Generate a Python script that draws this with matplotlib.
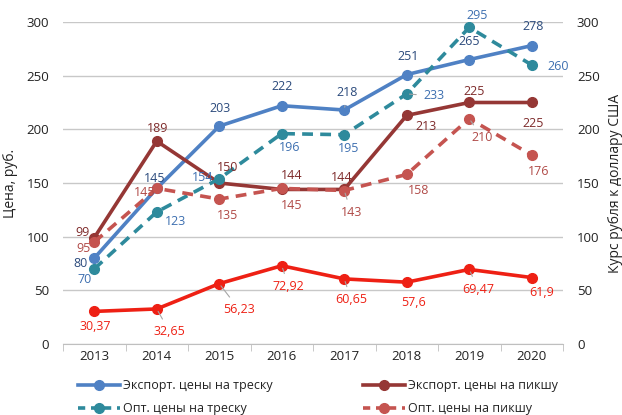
import matplotlib
matplotlib.use("Agg")
import matplotlib.pyplot as plt
from matplotlib.lines import Line2D

plt.rcParams['font.family'] = ['Open Sans', 'DejaVu Sans']

years = ['2013', '2014', '2015', '2016', '2017', '2018', '2019', '2020']
export_cod = [80, 145, 203, 222, 218, 251, 265, 278]
export_haddock = [99, 189, 150, 144, 144, 213, 225, 225]
opt_cod = [70, 123, 154, 196, 195, 233, 295, 260]
opt_haddock = [95, 145, 135, 145, 143, 158, 210, 176]
usd_rate = [30.37, 32.65, 56.23, 72.92, 60.65, 57.6, 69.47, 61.9]

names = ['Экспорт. цены на треску', 'Экспорт. цены на пикшу',
         'Опт. цены на треску', 'Опт. цены на пикшу']

c_ecod = '#4f81c4'
c_ehad = '#953735'
c_ocod = '#2e8a9c'
c_ohad = '#c55450'
c_usd = '#ee2014'

fig = plt.figure(figsize=(6.22, 4.15), dpi=100)
ax = fig.add_axes([63/622, 1-344/415, 500/622, 322/415])
ax2 = ax.twinx()

x = list(range(len(years)))
lw = 2.6
ms = 7
ax.plot(x, export_cod, color=c_ecod, lw=lw, marker='o', ms=ms, zorder=5)
ax.plot(x, export_haddock, color=c_ehad, lw=lw, marker='o', ms=ms, zorder=5)
ax.plot(x, opt_cod, color=c_ocod, lw=lw, marker='o', ms=ms, ls=(0, (3, 2)), zorder=5)
ax.plot(x, opt_haddock, color=c_ohad, lw=lw, marker='o', ms=ms, ls=(0, (3, 2)), zorder=5)
ax.plot(x, usd_rate, color=c_usd, lw=lw, marker='o', ms=ms, zorder=5)

ax.set_xlim(-0.5, len(years) - 0.5)
ax.set_ylim(0, 300)
ax2.set_ylim(0, 300)
ax.set_yticks(range(0, 301, 50))
ax2.set_yticks(range(0, 301, 50))
ax.grid(axis='y', color='#c8c8c8', lw=1)
ax.set_axisbelow(True)
for a in (ax, ax2):
    for s in a.spines.values():
        s.set_visible(False)
    a.tick_params(axis='y', length=0, labelsize=9.5, colors='#222222')
ax.spines['bottom'].set_visible(True)
ax.spines['bottom'].set_color('#bfbfbf')
ax.set_xticks(x)
ax.set_xticklabels(years)
ax.set_xticks([i - 0.5 for i in range(len(years) + 1)], minor=True)
ax.tick_params(axis='x', which='major', length=0, labelsize=9.5, colors='#222222', pad=4)
ax.tick_params(axis='x', which='minor', length=5, color='#bfbfbf')
ax.tick_params(axis='y', pad=10)
ax2.tick_params(axis='y', pad=10)

ax.set_ylabel('Цена, руб.', fontsize=10, color='#222222', labelpad=6)
ax2.set_ylabel('Курс рубля к доллару США', fontsize=10, color='#222222', labelpad=6)

def fmt(v):
    s = ('%g' % v).replace('.', ',')
    return s

def labels(vals, offs, color, leaders=()):
    for i, (v, (dx, dy)) in enumerate(zip(vals, offs)):
        kw = {}
        if i in leaders:
            kw['arrowprops'] = dict(arrowstyle='-', color='#a6a6a6', lw=0.8,
                                    shrinkA=3, shrinkB=2)
        ax.annotate(fmt(v), (i, v), xytext=(dx, -dy), textcoords='offset pixels',
                    ha='center', va='center', fontsize=9, color=color, zorder=10, **kw)

lab_ecod = '#2b4a7c'
lab_ocod = '#3d6fb0'
lab_ehad = '#7e2b2b'
lab_ohad = '#b04a47'
lab_usd = '#ee2014'

labels(export_cod, [(-14, 5), (-2, -10), (1, -18), (0, -19), (3, -18), (1, -18), (0, -18), (1, -19)], lab_ecod, leaders=(4,))
labels(export_haddock, [(-12, -5), (1, -13), (8, -16), (10, -14), (-3, -12), (19, 11), (5, -11), (1, 21)], lab_ehad)
labels(opt_cod, [(-10, 11), (19, 10), (-17, -1), (8, 14), (4, 14), (27, 2), (8, -12), (26, 2)], lab_ocod, leaders=(5,))
labels(opt_haddock, [(-11, 6), (-12, 4), (8, 16), (10, 17), (7, 22), (12, 16), (13, 19), (7, 16)], lab_ohad, leaders=(4, 6))
labels(usd_rate, [(1, 15), (13, 23), (20, 26), (7, 21), (7, 21), (7, 20), (9, 20), (10, 15)], lab_usd, leaders=(1, 2, 3, 4, 6))

handles = [
    Line2D([], [], color=c_ecod, lw=lw, marker='o', ms=ms),
    Line2D([], [], color=c_ocod, lw=lw, marker='o', ms=ms, ls=(0, (2, 1.6))),
    Line2D([], [], color=c_ehad, lw=lw, marker='o', ms=ms),
    Line2D([], [], color=c_ohad, lw=lw, marker='o', ms=ms, ls=(0, (2, 1.6))),
]
fig.legend(handles, [names[0], names[2], names[1], names[3]], ncol=2,
           loc='upper left', bbox_to_anchor=(78/622, 1-379/415), frameon=False,
           fontsize=9, handlelength=3.36, handletextpad=0.25, columnspacing=7.2,
           labelspacing=0.8, borderaxespad=0, borderpad=0, labelcolor='#222222')

fig.savefig('out.png', dpi=100)
